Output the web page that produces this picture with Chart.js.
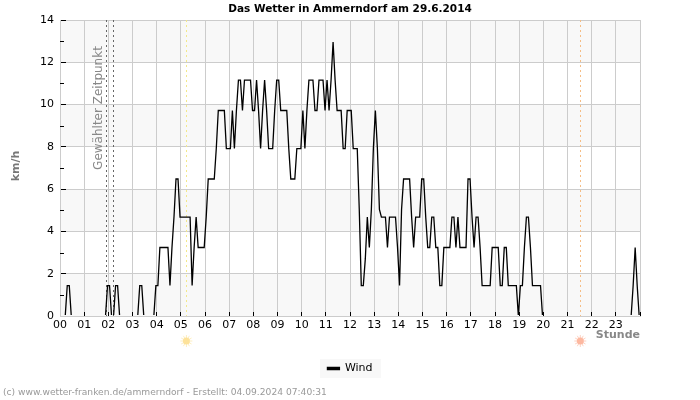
<!DOCTYPE html>
<html>
<head>
<meta charset="utf-8">
<style>
html, body { margin: 0; padding: 0; background: #fff; }
</style>
<script src="https://cdn.jsdelivr.net/npm/chart.js@4"></script>
</head>
<body>
<canvas id="myChart" width="700" height="400"></canvas>
<script>
const hourLabels = ['00','01','02','03','04','05','06','07','08','09','10','11','12','13','14','15','16','17','18','19','20','21','22','23'];
const yTicks = [0, 2, 4, 6, 8, 10, 12, 14];

// Wind in km/h, one value every 5 minutes, 12 per hour
const wind = [
  0,0,0,1.44,1.44,0,0,0,0,0,0,0,
  0,0,0,0,0,0,0,0,0,0,0,1.44,
  1.44,0,0,1.44,1.44,0,0,0,0,0,0,0,
  0,0,0,1.44,1.44,0,0,0,0,0,0,1.44,
  1.44,3.24,3.24,3.24,3.24,3.24,1.44,3.24,4.68,6.48,6.48,4.68,
  4.68,4.68,4.68,4.68,4.68,1.44,3.24,4.68,3.24,3.24,3.24,3.24,
  4.68,6.48,6.48,6.48,6.48,7.92,9.72,9.72,9.72,9.72,7.92,7.92,
  7.92,9.72,7.92,9.72,11.16,11.16,9.72,11.16,11.16,11.16,11.16,9.72,
  9.72,11.16,9.72,7.92,9.72,11.16,9.72,7.92,7.92,7.92,9.72,11.16,
  11.16,9.72,9.72,9.72,9.72,7.92,6.48,6.48,6.48,7.92,7.92,7.92,
  9.72,7.92,9.72,11.16,11.16,11.16,9.72,9.72,11.16,11.16,11.16,9.72,
  11.16,9.72,11.16,12.96,11.16,9.72,9.72,9.72,7.92,7.92,9.72,9.72,
  9.72,7.92,7.92,7.92,5.04,1.44,1.44,2.7,4.68,3.24,5.04,7.92,
  9.72,7.92,5.04,4.68,4.68,4.68,3.24,4.68,4.68,4.68,4.68,3.24,
  1.44,5.04,6.48,6.48,6.48,6.48,4.68,3.24,4.68,4.68,4.68,6.48,
  6.48,4.68,3.24,3.24,4.68,4.68,3.24,3.24,1.44,1.44,3.24,3.24,
  3.24,3.24,4.68,4.68,3.24,4.68,3.24,3.24,3.24,3.24,6.48,6.48,
  4.68,3.24,4.68,4.68,3.24,1.44,1.44,1.44,1.44,1.44,3.24,3.24,
  3.24,3.24,1.44,1.44,3.24,3.24,1.44,1.44,1.44,1.44,1.44,0,
  1.44,1.44,3.24,4.68,4.68,3.24,1.44,1.44,1.44,1.44,1.44,0,
  0,0,0,0,0,0,0,0,0,0,0,0,
  0,0,0,0,0,0,0,0,0,0,0,0,
  0,0,0,0,0,0,0,0,0,0,0,0,
  0,0,0,0,0,0,0,0,1.44,3.24,1.44,0
];

// Markers in hours of the day
const selectedTimes = [1.89, 2.19];
const sunrise = 5.23;
const sunset = 21.53;

const font = 'DejaVu Sans';

function vLine(chart, hour, color, dash) {
  const c = chart.ctx, x = Math.round(chart.scales.x.getPixelForValue(hour)) + 0.5;
  c.save();
  c.strokeStyle = color;
  c.lineWidth = 1;
  c.setLineDash(dash);
  c.beginPath();
  c.moveTo(x, chart.chartArea.top);
  c.lineTo(x, chart.chartArea.bottom);
  c.stroke();
  c.restore();
}

function sun(chart, hour, fill, rays) {
  const c = chart.ctx, x = chart.scales.x.getPixelForValue(hour), y = 341;
  c.save();
  c.strokeStyle = rays;
  c.fillStyle = fill;
  c.lineWidth = 1;
  for (let i = 0; i < 12; i++) {
    const a = i * Math.PI / 6;
    c.beginPath();
    c.moveTo(x + Math.cos(a) * 3, y + Math.sin(a) * 3);
    c.lineTo(x + Math.cos(a) * 6, y + Math.sin(a) * 6);
    c.stroke();
  }
  c.beginPath();
  c.arc(x, y, 3.5, 0, Math.PI * 2);
  c.fill();
  c.restore();
}

const decorations = {
  id: 'decorations',
  beforeDraw(chart) {
    const c = chart.ctx, a = chart.chartArea, y = chart.scales.y;
    // alternating bands behind the grid
    c.save();
    c.fillStyle = '#f8f8f8';
    for (let v = 0; v < 14; v += 4) {
      const top = y.getPixelForValue(v + 2), bottom = y.getPixelForValue(v);
      c.fillRect(a.left, top, a.right - a.left, bottom - top);
    }
    // legend box
    c.fillRect(320, chart.legend.top, 61, 19);
    c.restore();
  },
  beforeDatasetsDraw(chart) {
    const c = chart.ctx, a = chart.chartArea, y = chart.scales.y;
    // short ticks on the odd values
    c.save();
    c.strokeStyle = '#000';
    c.lineWidth = 1;
    for (let v = 1; v < 14; v += 2) {
      const p = Math.round(y.getPixelForValue(v)) + 0.5;
      c.beginPath();
      c.moveTo(a.left, p);
      c.lineTo(a.left + 4, p);
      c.stroke();
    }
    c.restore();
    selectedTimes.forEach(h => vLine(chart, h, '#666', [2, 3]));
    vLine(chart, sunrise, '#f3e98c', [2, 3]);
    vLine(chart, sunset, '#f5bd85', [2, 3]);
  },
  afterDraw(chart) {
    const c = chart.ctx;
    c.save();
    // rotated labels
    c.textAlign = 'center';
    c.textBaseline = 'middle';
    c.fillStyle = '#888';
    c.font = '12px "' + font + '"';
    c.translate(99, 108);
    c.rotate(-Math.PI / 2);
    c.fillText('Gewählter Zeitpunkt', 0, 0);
    c.restore();

    c.save();
    c.textAlign = 'center';
    c.textBaseline = 'middle';
    c.fillStyle = '#777';
    c.font = 'bold 11px "' + font + '"';
    c.translate(16, 166);
    c.rotate(-Math.PI / 2);
    c.fillText('km/h', 0, 0);
    c.restore();

    c.save();
    c.fillStyle = '#888';
    c.font = 'bold 11px "' + font + '"';
    c.textAlign = 'right';
    c.textBaseline = 'middle';
    c.fillText('Stunde', 640, 335);
    c.font = '9.15px "' + font + '"';
    c.textAlign = 'left';
    c.fillStyle = '#999';
    c.fillText('(c) www.wetter-franken.de/ammerndorf - Erstellt: 04.09.2024 07:40:31', 3, 393);
    c.restore();

    sun(chart, sunrise, '#fde29a', '#fdeec0');
    sun(chart, sunset, '#fdb8a0', '#fdd2c2');
  }
};

let ctx = document.getElementById('myChart').getContext('2d');
let myChart = new Chart(ctx, {
  type: 'line',
  data: {
    datasets: [{
      label: 'Wind',
      data: wind.map((v, i) => ({ x: (i + 0.6) / 12, y: v })),
      yAxisID: 'y',
      borderColor: '#000',
      backgroundColor: '#000',
      borderWidth: 1.3,
      pointRadius: 0,
      tension: 0,
      clip: { left: 0, top: 0, right: 0, bottom: -1 } // the zero line stays hidden under the axis
    }]
  },
  options: {
    responsive: false,
    animation: false,
    layout: { padding: { left: 0, right: 0, top: 0, bottom: 16 } },
    scales: {
      x: {
        type: 'linear',
        min: 0,
        max: 24,
        afterFit(s) { s.height = 43; },
        border: { color: '#ccc' },
        grid: { color: '#ccc', tickColor: '#000', tickLength: -4 },
        ticks: {
          stepSize: 1,
          autoSkip: false,
          maxRotation: 0,
          padding: 7,
          color: '#000',
          font: { family: font, size: 11 },
          callback: v => hourLabels[v] || ''
        }
      },
      y: {
        min: 0,
        max: 14,
        afterFit(s) { s.width = 60; },
        border: { color: '#ccc' },
        grid: {
          color: c => (c.tick.value % 2 === 0 ? '#ccc' : 'rgba(0,0,0,0)'),
          tickColor: c => (c.tick.value % 2 === 0 ? '#000' : 'rgba(0,0,0,0)'),
          tickLength: -6
        },
        ticks: {
          stepSize: 1,
          autoSkip: false,
          padding: 12,
          color: '#000',
          font: { family: font, size: 11 },
          callback: v => (yTicks.includes(v) ? v : '')
        }
      },
      // empty axis, only keeps the margin on the right so title and legend stay centred
      margin: {
        position: 'right',
        afterFit(s) { s.width = 60; },
        border: { display: false },
        grid: { display: false },
        ticks: { display: false }
      }
    },
    plugins: {
      tooltip: { enabled: false },
      title: {
        display: true,
        text: 'Das Wetter in Ammerndorf am 29.6.2014',
        color: '#000',
        font: { family: font, size: 10.5, weight: 'bold' },
        padding: { top: 3, bottom: 4.4 }
      },
      legend: {
        position: 'bottom',
        onClick: null,
        labels: {
          boxWidth: 12,
          boxHeight: 2,
          padding: 4,
          color: '#000',
          font: { family: font, size: 11 }
        }
      }
    }
  },
  plugins: [decorations]
});
</script>
</body>
</html>
